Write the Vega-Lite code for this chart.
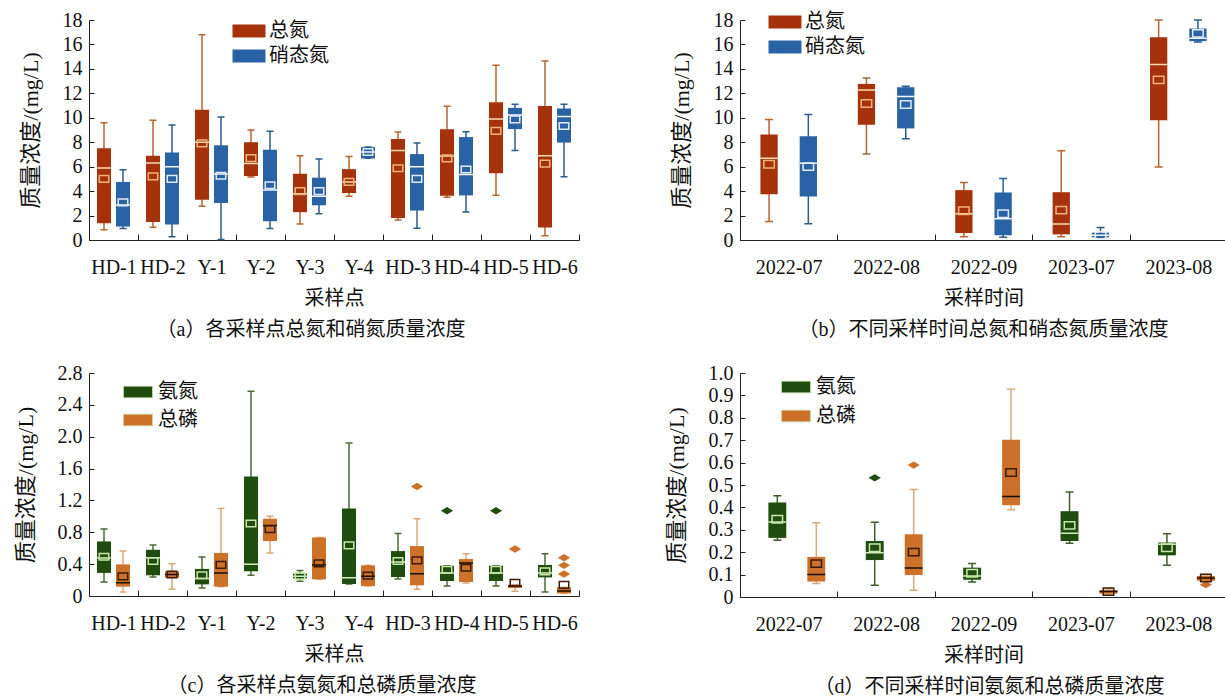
{
  "$schema": "https://vega.github.io/schema/vega-lite/v6.json",
  "background": "white",
  "padding": {"left": 14, "top": 10, "right": 0, "bottom": 0},
  "bounds": "flush",
  "resolve": {
    "scale": {"x": "independent", "y": "independent", "xOffset": "independent", "fill": "independent"},
    "axis": {"x": "independent", "y": "independent"},
    "legend": {"fill": "independent"}
  },
  "config": {
    "view": {"stroke": null},
    "font": "Liberation Serif, Noto Sans CJK SC",
    "axis": {
      "domainColor": "#222", "tickColor": "#222", "labelColor": "#111", "titleColor": "#111",
      "labelFont": "Liberation Serif, Noto Sans CJK SC", "titleFont": "Liberation Serif, Noto Sans CJK SC",
      "labelFontSize": 20, "titleFontSize": 20, "titleFontWeight": "normal", "grid": false, "labelOverlap": false
    },
    "axisX": {"tickBand": "extent", "tickSize": -6, "labelAngle": 0, "labelPadding": 23, "titlePadding": 11},
    "axisY": {"tickSize": -5, "labelPadding": 12, "titlePadding": 20, "titleFontSize": 22},
    "legend": {"orient": "none", "title": null, "symbolType": "M-2,-0.8H2V0.8H-2Z", "symbolSize": 272, "symbolStrokeWidth": 0,
      "labelFontSize": 20, "labelFont": "Liberation Serif, Noto Sans CJK SC", "labelColor": "#111", "labelOffset": 10, "rowPadding": 5, "padding": 0},
    "title": {"orient": "bottom", "fontSize": 20, "fontWeight": "normal", "font": "Liberation Serif, Noto Sans CJK SC", "color": "#111", "offset": 12}
  },
  "datasets": {
    "A": [
      {"cat": "HD-1", "s": "总氮", "lo": 0.83, "q1": 1.37, "med": 5.9, "q3": 7.5, "hi": 9.6, "mean": 5.0},
      {"cat": "HD-1", "s": "硝态氮", "lo": 0.94, "q1": 1.1, "med": 2.87, "q3": 4.75, "hi": 5.74, "mean": 3.08},
      {"cat": "HD-2", "s": "总氮", "lo": 1.05, "q1": 1.48, "med": 6.3, "q3": 6.9, "hi": 9.8, "mean": 5.2},
      {"cat": "HD-2", "s": "硝态氮", "lo": 0.27, "q1": 1.26, "med": 6.0, "q3": 7.16, "hi": 9.4, "mean": 5.0},
      {"cat": "Y-1", "s": "总氮", "lo": 2.76, "q1": 3.3, "med": 8.0, "q3": 10.65, "hi": 16.8, "mean": 7.9},
      {"cat": "Y-1", "s": "硝态氮", "lo": 0.05, "q1": 3.03, "med": 5.4, "q3": 7.75, "hi": 10.06, "mean": 5.26},
      {"cat": "Y-2", "s": "总氮", "lo": 5.15, "q1": 5.23, "med": 6.25, "q3": 8.0, "hi": 9.0, "mean": 6.7},
      {"cat": "Y-2", "s": "硝态氮", "lo": 0.94, "q1": 1.53, "med": 4.1, "q3": 7.38, "hi": 8.9, "mean": 4.48},
      {"cat": "Y-3", "s": "总氮", "lo": 1.31, "q1": 2.28, "med": 3.78, "q3": 5.42, "hi": 6.9, "mean": 4.0},
      {"cat": "Y-3", "s": "硝态氮", "lo": 2.15, "q1": 2.84, "med": 3.57, "q3": 5.1, "hi": 6.63, "mean": 4.0},
      {"cat": "Y-4", "s": "总氮", "lo": 3.57, "q1": 3.84, "med": 4.75, "q3": 5.8, "hi": 6.84, "mean": 4.75},
      {"cat": "Y-4", "s": "硝态氮", "lo": 6.68, "q1": 6.68, "med": 7.19, "q3": 7.6, "hi": 7.6, "mean": 7.2},
      {"cat": "HD-3", "s": "总氮", "lo": 1.64, "q1": 1.8, "med": 7.32, "q3": 8.26, "hi": 8.83, "mean": 5.87},
      {"cat": "HD-3", "s": "硝态氮", "lo": 0.97, "q1": 2.41, "med": 6.0, "q3": 7.03, "hi": 7.94, "mean": 5.0},
      {"cat": "HD-4", "s": "总氮", "lo": 3.49, "q1": 3.62, "med": 6.87, "q3": 9.07, "hi": 10.94, "mean": 6.68},
      {"cat": "HD-4", "s": "硝态氮", "lo": 2.3, "q1": 3.65, "med": 5.36, "q3": 8.42, "hi": 8.85, "mean": 5.77},
      {"cat": "HD-5", "s": "总氮", "lo": 3.67, "q1": 5.47, "med": 9.9, "q3": 11.27, "hi": 14.3, "mean": 8.93},
      {"cat": "HD-5", "s": "硝态氮", "lo": 7.32, "q1": 9.07, "med": 10.22, "q3": 10.81, "hi": 11.1, "mean": 9.87},
      {"cat": "HD-6", "s": "总氮", "lo": 0.35, "q1": 1.02, "med": 6.9, "q3": 10.97, "hi": 14.65, "mean": 6.25},
      {"cat": "HD-6", "s": "硝态氮", "lo": 5.18, "q1": 7.97, "med": 10.1, "q3": 10.76, "hi": 11.1, "mean": 9.33}
    ],
    "B": [
      {"cat": "2022-07", "s": "总氮", "lo": 1.52, "q1": 3.75, "med": 6.68, "q3": 8.64, "hi": 9.86, "mean": 6.2},
      {"cat": "2022-07", "s": "硝态氮", "lo": 1.33, "q1": 3.56, "med": 6.28, "q3": 8.48, "hi": 10.27, "mean": 6.0},
      {"cat": "2022-08", "s": "总氮", "lo": 7.04, "q1": 9.43, "med": 12.28, "q3": 12.77, "hi": 13.26, "mean": 11.17},
      {"cat": "2022-08", "s": "硝态氮", "lo": 8.29, "q1": 9.13, "med": 11.74, "q3": 12.5, "hi": 12.58, "mean": 11.09},
      {"cat": "2022-09", "s": "总氮", "lo": 0.27, "q1": 0.57, "med": 2.15, "q3": 4.08, "hi": 4.7, "mean": 2.39},
      {"cat": "2022-09", "s": "硝态氮", "lo": 0.22, "q1": 0.38, "med": 1.74, "q3": 3.89, "hi": 5.03, "mean": 2.15},
      {"cat": "2023-07", "s": "总氮", "lo": 0.27, "q1": 0.46, "med": 1.3, "q3": 3.91, "hi": 7.31, "mean": 2.45},
      {"cat": "2023-07", "s": "硝态氮", "lo": 0.2, "q1": 0.22, "med": 0.38, "q3": 0.6, "hi": 1.03, "mean": 0.38},
      {"cat": "2023-08", "s": "总氮", "lo": 5.98, "q1": 9.8, "med": 14.35, "q3": 16.58, "hi": 18.0, "mean": 13.1},
      {"cat": "2023-08", "s": "硝态氮", "lo": 16.2, "q1": 16.27, "med": 16.5, "q3": 17.3, "hi": 18.0, "mean": 16.9}
    ],
    "C": [
      {"cat": "HD-1", "s": "氨氮", "lo": 0.175, "q1": 0.29, "med": 0.476, "q3": 0.685, "hi": 0.84, "mean": 0.493},
      {"cat": "HD-1", "s": "总磷", "lo": 0.05, "q1": 0.117, "med": 0.167, "q3": 0.397, "hi": 0.564, "mean": 0.247},
      {"cat": "HD-2", "s": "氨氮", "lo": 0.24, "q1": 0.26, "med": 0.48, "q3": 0.58, "hi": 0.64, "mean": 0.44},
      {"cat": "HD-2", "s": "总磷", "lo": 0.084, "q1": 0.226, "med": 0.27, "q3": 0.31, "hi": 0.405, "mean": 0.27},
      {"cat": "Y-1", "s": "氨氮", "lo": 0.1, "q1": 0.146, "med": 0.22, "q3": 0.34, "hi": 0.49, "mean": 0.26},
      {"cat": "Y-1", "s": "总磷", "lo": 0.117, "q1": 0.117, "med": 0.29, "q3": 0.54, "hi": 1.1, "mean": 0.39},
      {"cat": "Y-2", "s": "氨氮", "lo": 0.26, "q1": 0.31, "med": 0.4, "q3": 1.5, "hi": 2.57, "mean": 0.91},
      {"cat": "Y-2", "s": "总磷", "lo": 0.54, "q1": 0.69, "med": 0.886, "q3": 0.97, "hi": 1.0, "mean": 0.84},
      {"cat": "Y-3", "s": "氨氮", "lo": 0.184, "q1": 0.22, "med": 0.247, "q3": 0.28, "hi": 0.32, "mean": 0.25},
      {"cat": "Y-3", "s": "总磷", "lo": 0.21, "q1": 0.21, "med": 0.39, "q3": 0.735, "hi": 0.735, "mean": 0.41},
      {"cat": "Y-4", "s": "氨氮", "lo": 0.15, "q1": 0.15, "med": 0.23, "q3": 1.1, "hi": 1.92, "mean": 0.635},
      {"cat": "Y-4", "s": "总磷", "lo": 0.125, "q1": 0.125, "med": 0.247, "q3": 0.385, "hi": 0.385, "mean": 0.255},
      {"cat": "HD-3", "s": "氨氮", "lo": 0.213, "q1": 0.238, "med": 0.426, "q3": 0.564, "hi": 0.786, "mean": 0.44},
      {"cat": "HD-3", "s": "总磷", "lo": 0.084, "q1": 0.134, "med": 0.28, "q3": 0.627, "hi": 0.97, "mean": 0.447},
      {"cat": "HD-4", "s": "氨氮", "lo": 0.125, "q1": 0.188, "med": 0.29, "q3": 0.38, "hi": 0.38, "mean": 0.33},
      {"cat": "HD-4", "s": "总磷", "lo": 0.163, "q1": 0.176, "med": 0.414, "q3": 0.464, "hi": 0.53, "mean": 0.355},
      {"cat": "HD-5", "s": "氨氮", "lo": 0.125, "q1": 0.188, "med": 0.29, "q3": 0.38, "hi": 0.38, "mean": 0.33},
      {"cat": "HD-5", "s": "总磷", "lo": 0.06, "q1": 0.1, "med": 0.125, "q3": 0.142, "hi": 0.142, "mean": 0.167},
      {"cat": "HD-6", "s": "氨氮", "lo": 0.05, "q1": 0.234, "med": 0.29, "q3": 0.39, "hi": 0.53, "mean": 0.31},
      {"cat": "HD-6", "s": "总磷", "lo": 0.033, "q1": 0.033, "med": 0.063, "q3": 0.11, "hi": 0.11, "mean": 0.14}
    ],
    "Cout": [
      {"cat": "HD-3", "s": "总磷", "v": 1.375},
      {"cat": "HD-4", "s": "氨氮", "v": 1.07},
      {"cat": "HD-5", "s": "氨氮", "v": 1.07},
      {"cat": "HD-5", "s": "总磷", "v": 0.59},
      {"cat": "HD-6", "s": "总磷", "v": 0.48},
      {"cat": "HD-6", "s": "总磷", "v": 0.385},
      {"cat": "HD-6", "s": "总磷", "v": 0.276}
    ],
    "D": [
      {"cat": "2022-07", "s": "氨氮", "lo": 0.253, "q1": 0.264, "med": 0.335, "q3": 0.422, "hi": 0.452, "mean": 0.347},
      {"cat": "2022-07", "s": "总磷", "lo": 0.06, "q1": 0.069, "med": 0.1, "q3": 0.179, "hi": 0.331, "mean": 0.149},
      {"cat": "2022-08", "s": "氨氮", "lo": 0.052, "q1": 0.165, "med": 0.198, "q3": 0.25, "hi": 0.334, "mean": 0.22},
      {"cat": "2022-08", "s": "总磷", "lo": 0.03, "q1": 0.098, "med": 0.13, "q3": 0.28, "hi": 0.48, "mean": 0.2},
      {"cat": "2022-09", "s": "氨氮", "lo": 0.067, "q1": 0.077, "med": 0.094, "q3": 0.131, "hi": 0.149, "mean": 0.106},
      {"cat": "2022-09", "s": "总磷", "lo": 0.389, "q1": 0.41, "med": 0.449, "q3": 0.702, "hi": 0.928, "mean": 0.556},
      {"cat": "2023-07", "s": "氨氮", "lo": 0.24, "q1": 0.25, "med": 0.285, "q3": 0.383, "hi": 0.469, "mean": 0.32},
      {"cat": "2023-07", "s": "总磷", "lo": 0.012, "q1": 0.015, "med": 0.024, "q3": 0.031, "hi": 0.037, "mean": 0.024},
      {"cat": "2023-08", "s": "氨氮", "lo": 0.142, "q1": 0.186, "med": 0.235, "q3": 0.243, "hi": 0.282, "mean": 0.22},
      {"cat": "2023-08", "s": "总磷", "lo": 0.072, "q1": 0.072, "med": 0.085, "q3": 0.094, "hi": 0.094, "mean": 0.085}
    ],
    "Dout": [
      {"cat": "2022-08", "s": "氨氮", "v": 0.532},
      {"cat": "2022-08", "s": "总磷", "v": 0.589},
      {"cat": "2023-08", "s": "总磷", "v": 0.055}
    ]
  },
  "columns": 2,
  "spacing": {"row": 133, "column": 161},
  "concat": [
    {
      "width": 490, "height": 220,
      "title": {"text": "（a）各采样点总氮和硝氮质量浓度", "dx": -23},
      "data": {"name": "A"},
      "encoding": {
        "x": {"field": "cat", "type": "nominal", "title": "采样点",
          "scale": {"domain": ["HD-1", "HD-2", "Y-1", "Y-2", "Y-3", "Y-4", "HD-3", "HD-4", "HD-5", "HD-6"], "paddingInner": 0, "paddingOuter": 0}},
        "xOffset": {"field": "s", "type": "nominal", "scale": {"domain": ["总氮", "硝态氮"], "paddingInner": 0.26, "paddingOuter": 0.42}},
        "y": {"type": "quantitative", "title": "质量浓度/(mg/L)", "scale": {"domain": [0, 18]}, "axis": {"values": [0, 2, 4, 6, 8, 10, 12, 14, 16, 18]}}
      },
      "layer": [
        {"transform": [{"filter": "datum.s === '总氮'"}], "mark": {"type": "rule", "strokeWidth": 1.5, "color": "#B8642E"},
          "encoding": {"y": {"field": "lo"}, "y2": {"field": "hi"}}},
        {"transform": [{"filter": "datum.s === '硝态氮'"}], "mark": {"type": "rule", "strokeWidth": 1.5, "color": "#2D5C8C"},
          "encoding": {"y": {"field": "lo"}, "y2": {"field": "hi"}}},
        {"transform": [{"filter": "datum.s === '总氮'"}], "mark": {"type": "bar", "width": 7, "strokeWidth": 1.5, "stroke": "#B8642E"},
          "encoding": {"y": {"field": "hi"}, "y2": {"field": "hi"}}},
        {"transform": [{"filter": "datum.s === '硝态氮'"}], "mark": {"type": "bar", "width": 7, "strokeWidth": 1.5, "stroke": "#2D5C8C"},
          "encoding": {"y": {"field": "hi"}, "y2": {"field": "hi"}}},
        {"transform": [{"filter": "datum.s === '总氮'"}], "mark": {"type": "bar", "width": 7, "strokeWidth": 1.5, "stroke": "#B8642E"},
          "encoding": {"y": {"field": "lo"}, "y2": {"field": "lo"}}},
        {"transform": [{"filter": "datum.s === '硝态氮'"}], "mark": {"type": "bar", "width": 7, "strokeWidth": 1.5, "stroke": "#2D5C8C"},
          "encoding": {"y": {"field": "lo"}, "y2": {"field": "lo"}}},
        {"mark": {"type": "bar"},
          "encoding": {"y": {"field": "q1"}, "y2": {"field": "q3"},
            "fill": {"field": "s", "type": "nominal", "scale": {"domain": ["总氮", "硝态氮"], "range": ["#A5320A", "#2A62A6"]},
              "legend": {"legendX": 150, "legendY": 1}}}},
        {"transform": [{"filter": "datum.s === '总氮'"}], "mark": {"type": "bar", "stroke": "#F6DDB0", "strokeWidth": 1.5},
          "encoding": {"y": {"field": "med"}, "y2": {"field": "med"}}},
        {"transform": [{"filter": "datum.s === '硝态氮'"}], "mark": {"type": "bar", "stroke": "#F2F5FA", "strokeWidth": 1.5},
          "encoding": {"y": {"field": "med"}, "y2": {"field": "med"}}},
        {"transform": [{"filter": "datum.s === '总氮'"}],
          "mark": {"type": "point", "shape": "M-1,-0.7H1V0.7H-1Z", "size": 90, "filled": false, "stroke": "#F2B27A", "strokeWidth": 1.5, "opacity": 1},
          "encoding": {"y": {"field": "mean"}}},
        {"transform": [{"filter": "datum.s === '硝态氮'"}],
          "mark": {"type": "point", "shape": "M-1,-0.7H1V0.7H-1Z", "size": 90, "filled": false, "stroke": "#E2ECF7", "strokeWidth": 1.5, "opacity": 1},
          "encoding": {"y": {"field": "mean"}}}
      ]
    },
    {
      "width": 487, "height": 220,
      "title": {"text": "（b）不同采样时间总氮和硝态氮质量浓度", "dx": 0},
      "data": {"name": "B"},
      "encoding": {
        "x": {"field": "cat", "type": "nominal", "title": "采样时间",
          "scale": {"domain": ["2022-07", "2022-08", "2022-09", "2023-07", "2023-08"], "paddingInner": 0, "paddingOuter": 0}},
        "xOffset": {"field": "s", "type": "nominal", "scale": {"domain": ["总氮", "硝态氮"], "paddingInner": 0.56, "paddingOuter": 0.52}},
        "y": {"type": "quantitative", "title": "质量浓度/(mg/L)", "scale": {"domain": [0, 18]}, "axis": {"values": [0, 2, 4, 6, 8, 10, 12, 14, 16, 18]}}
      },
      "layer": [
        {"transform": [{"filter": "datum.s === '总氮'"}], "mark": {"type": "rule", "strokeWidth": 1.5, "color": "#B8642E"},
          "encoding": {"y": {"field": "lo"}, "y2": {"field": "hi"}}},
        {"transform": [{"filter": "datum.s === '硝态氮'"}], "mark": {"type": "rule", "strokeWidth": 1.5, "color": "#2D5C8C"},
          "encoding": {"y": {"field": "lo"}, "y2": {"field": "hi"}}},
        {"transform": [{"filter": "datum.s === '总氮'"}], "mark": {"type": "bar", "width": 8, "strokeWidth": 1.5, "stroke": "#B8642E"},
          "encoding": {"y": {"field": "hi"}, "y2": {"field": "hi"}}},
        {"transform": [{"filter": "datum.s === '硝态氮'"}], "mark": {"type": "bar", "width": 8, "strokeWidth": 1.5, "stroke": "#2D5C8C"},
          "encoding": {"y": {"field": "hi"}, "y2": {"field": "hi"}}},
        {"transform": [{"filter": "datum.s === '总氮'"}], "mark": {"type": "bar", "width": 8, "strokeWidth": 1.5, "stroke": "#B8642E"},
          "encoding": {"y": {"field": "lo"}, "y2": {"field": "lo"}}},
        {"transform": [{"filter": "datum.s === '硝态氮'"}], "mark": {"type": "bar", "width": 8, "strokeWidth": 1.5, "stroke": "#2D5C8C"},
          "encoding": {"y": {"field": "lo"}, "y2": {"field": "lo"}}},
        {"mark": {"type": "bar"},
          "encoding": {"y": {"field": "q1"}, "y2": {"field": "q3"},
            "fill": {"field": "s", "type": "nominal", "scale": {"domain": ["总氮", "硝态氮"], "range": ["#A5320A", "#2A62A6"]},
              "legend": {"legendX": 35, "legendY": -8}}}},
        {"transform": [{"filter": "datum.s === '总氮'"}], "mark": {"type": "bar", "stroke": "#F6DDB0", "strokeWidth": 1.5},
          "encoding": {"y": {"field": "med"}, "y2": {"field": "med"}}},
        {"transform": [{"filter": "datum.s === '硝态氮'"}], "mark": {"type": "bar", "stroke": "#F2F5FA", "strokeWidth": 1.5},
          "encoding": {"y": {"field": "med"}, "y2": {"field": "med"}}},
        {"transform": [{"filter": "datum.s === '总氮'"}],
          "mark": {"type": "point", "shape": "M-1,-0.7H1V0.7H-1Z", "size": 110, "filled": false, "stroke": "#F2B27A", "strokeWidth": 1.5, "opacity": 1},
          "encoding": {"y": {"field": "mean"}}},
        {"transform": [{"filter": "datum.s === '硝态氮'"}],
          "mark": {"type": "point", "shape": "M-1,-0.7H1V0.7H-1Z", "size": 110, "filled": false, "stroke": "#E2ECF7", "strokeWidth": 1.5, "opacity": 1},
          "encoding": {"y": {"field": "mean"}}}
      ]
    },
    {
      "width": 490, "height": 223,
      "title": {"text": "（c）各采样点氨氮和总磷质量浓度", "dx": -12},
      "data": {"name": "C"},
      "encoding": {
        "x": {"field": "cat", "type": "nominal", "title": "采样点",
          "scale": {"domain": ["HD-1", "HD-2", "Y-1", "Y-2", "Y-3", "Y-4", "HD-3", "HD-4", "HD-5", "HD-6"], "paddingInner": 0, "paddingOuter": 0}},
        "xOffset": {"field": "s", "type": "nominal", "scale": {"domain": ["氨氮", "总磷"], "paddingInner": 0.26, "paddingOuter": 0.42}},
        "y": {"type": "quantitative", "title": "质量浓度/(mg/L)", "scale": {"domain": [0, 2.8]},
          "axis": {"values": [0, 0.4, 0.8, 1.2, 1.6, 2.0, 2.4, 2.8], "labelExpr": "datum.value == 0 ? '0' : format(datum.value, '.1f')"}}
      },
      "layer": [
        {"transform": [{"filter": "datum.s === '氨氮'"}], "mark": {"type": "rule", "strokeWidth": 1.5, "color": "#4B6B36"},
          "encoding": {"y": {"field": "lo"}, "y2": {"field": "hi"}}},
        {"transform": [{"filter": "datum.s === '总磷'"}], "mark": {"type": "rule", "strokeWidth": 1.5, "color": "#DDA878"},
          "encoding": {"y": {"field": "lo"}, "y2": {"field": "hi"}}},
        {"transform": [{"filter": "datum.s === '氨氮'"}], "mark": {"type": "bar", "width": 7, "strokeWidth": 1.5, "stroke": "#4B6B36"},
          "encoding": {"y": {"field": "hi"}, "y2": {"field": "hi"}}},
        {"transform": [{"filter": "datum.s === '总磷'"}], "mark": {"type": "bar", "width": 7, "strokeWidth": 1.5, "stroke": "#DDA878"},
          "encoding": {"y": {"field": "hi"}, "y2": {"field": "hi"}}},
        {"transform": [{"filter": "datum.s === '氨氮'"}], "mark": {"type": "bar", "width": 7, "strokeWidth": 1.5, "stroke": "#4B6B36"},
          "encoding": {"y": {"field": "lo"}, "y2": {"field": "lo"}}},
        {"transform": [{"filter": "datum.s === '总磷'"}], "mark": {"type": "bar", "width": 7, "strokeWidth": 1.5, "stroke": "#DDA878"},
          "encoding": {"y": {"field": "lo"}, "y2": {"field": "lo"}}},
        {"mark": {"type": "bar"},
          "encoding": {"y": {"field": "q1"}, "y2": {"field": "q3"},
            "fill": {"field": "s", "type": "nominal", "scale": {"domain": ["氨氮", "总磷"], "range": ["#1F4C0F", "#CD7128"]},
              "legend": {"legendX": 39, "legendY": 9, "rowPadding": 8, "symbolSize": 210, "symbolStrokeColor": "#C5DDA8", "symbolStrokeWidth": 0.8}}}},
        {"data": {"name": "Cout"},
          "mark": {"type": "point", "shape": "M-1,0L0,-0.6L1,0L0,0.6Z", "size": 150, "filled": true, "opacity": 1},
          "encoding": {"y": {"field": "v"}, "fill": {"field": "s", "type": "nominal"}}},
        {"transform": [{"filter": "datum.s === '氨氮'"}], "mark": {"type": "bar", "stroke": "#D5EBC0", "strokeWidth": 1.5},
          "encoding": {"y": {"field": "med"}, "y2": {"field": "med"}}},
        {"transform": [{"filter": "datum.s === '总磷'"}], "mark": {"type": "bar", "stroke": "#1A0D05", "strokeWidth": 1.5},
          "encoding": {"y": {"field": "med"}, "y2": {"field": "med"}}},
        {"transform": [{"filter": "datum.s === '氨氮'"}],
          "mark": {"type": "point", "shape": "M-1,-0.7H1V0.7H-1Z", "size": 90, "filled": false, "stroke": "#C9E8A8", "strokeWidth": 1.5, "opacity": 1},
          "encoding": {"y": {"field": "mean"}}},
        {"transform": [{"filter": "datum.s === '总磷'"}],
          "mark": {"type": "point", "shape": "M-1,-0.7H1V0.7H-1Z", "size": 90, "filled": false, "stroke": "#3B1A08", "strokeWidth": 1.5, "opacity": 1},
          "encoding": {"y": {"field": "mean"}}}
      ]
    },
    {
      "width": 487, "height": 224,
      "title": {"text": "（d）不同采样时间氨氮和总磷质量浓度", "dx": 6},
      "data": {"name": "D"},
      "encoding": {
        "x": {"field": "cat", "type": "nominal", "title": "采样时间",
          "scale": {"domain": ["2022-07", "2022-08", "2022-09", "2023-07", "2023-08"], "paddingInner": 0, "paddingOuter": 0}},
        "xOffset": {"field": "s", "type": "nominal", "scale": {"domain": ["氨氮", "总磷"], "paddingInner": 0.54, "paddingOuter": 0.52, "align": 0.7}},
        "y": {"type": "quantitative", "title": "质量浓度/(mg/L)", "scale": {"domain": [0, 1]},
          "axis": {"values": [0, 0.1, 0.2, 0.3, 0.4, 0.5, 0.6, 0.7, 0.8, 0.9, 1.0], "labelExpr": "datum.value == 0 ? '0' : format(datum.value, '.1f')"}}
      },
      "layer": [
        {"transform": [{"filter": "datum.s === '氨氮'"}], "mark": {"type": "rule", "strokeWidth": 1.5, "color": "#3F5F2A"},
          "encoding": {"y": {"field": "lo"}, "y2": {"field": "hi"}}},
        {"transform": [{"filter": "datum.s === '总磷'"}], "mark": {"type": "rule", "strokeWidth": 1.5, "color": "#DDA878"},
          "encoding": {"y": {"field": "lo"}, "y2": {"field": "hi"}}},
        {"transform": [{"filter": "datum.s === '氨氮'"}], "mark": {"type": "bar", "width": 8, "strokeWidth": 1.5, "stroke": "#3F5F2A"},
          "encoding": {"y": {"field": "hi"}, "y2": {"field": "hi"}}},
        {"transform": [{"filter": "datum.s === '总磷'"}], "mark": {"type": "bar", "width": 8, "strokeWidth": 1.5, "stroke": "#DDA878"},
          "encoding": {"y": {"field": "hi"}, "y2": {"field": "hi"}}},
        {"transform": [{"filter": "datum.s === '氨氮'"}], "mark": {"type": "bar", "width": 8, "strokeWidth": 1.5, "stroke": "#3F5F2A"},
          "encoding": {"y": {"field": "lo"}, "y2": {"field": "lo"}}},
        {"transform": [{"filter": "datum.s === '总磷'"}], "mark": {"type": "bar", "width": 8, "strokeWidth": 1.5, "stroke": "#DDA878"},
          "encoding": {"y": {"field": "lo"}, "y2": {"field": "lo"}}},
        {"mark": {"type": "bar"},
          "encoding": {"y": {"field": "q1"}, "y2": {"field": "q3"},
            "fill": {"field": "s", "type": "nominal", "scale": {"domain": ["氨氮", "总磷"], "range": ["#1F4C0F", "#CD7128"]},
              "legend": {"legendX": 46, "legendY": 4, "rowPadding": 9, "symbolSize": 210, "symbolStrokeColor": "#C5DDA8", "symbolStrokeWidth": 0.8}}}},
        {"data": {"name": "Dout"},
          "mark": {"type": "point", "shape": "M-1,0L0,-0.6L1,0L0,0.6Z", "size": 150, "filled": true, "opacity": 1},
          "encoding": {"y": {"field": "v"}, "fill": {"field": "s", "type": "nominal"}}},
        {"transform": [{"filter": "datum.s === '氨氮'"}], "mark": {"type": "bar", "stroke": "#D5EBC0", "strokeWidth": 1.5},
          "encoding": {"y": {"field": "med"}, "y2": {"field": "med"}}},
        {"transform": [{"filter": "datum.s === '总磷'"}], "mark": {"type": "bar", "stroke": "#1A0D05", "strokeWidth": 1.5},
          "encoding": {"y": {"field": "med"}, "y2": {"field": "med"}}},
        {"transform": [{"filter": "datum.s === '氨氮'"}],
          "mark": {"type": "point", "shape": "M-1,-0.7H1V0.7H-1Z", "size": 110, "filled": false, "stroke": "#C9E8A8", "strokeWidth": 1.5, "opacity": 1},
          "encoding": {"y": {"field": "mean"}}},
        {"transform": [{"filter": "datum.s === '总磷'"}],
          "mark": {"type": "point", "shape": "M-1,-0.7H1V0.7H-1Z", "size": 110, "filled": false, "stroke": "#3B1A08", "strokeWidth": 1.5, "opacity": 1},
          "encoding": {"y": {"field": "mean"}}}
      ]
    }
  ]
}
